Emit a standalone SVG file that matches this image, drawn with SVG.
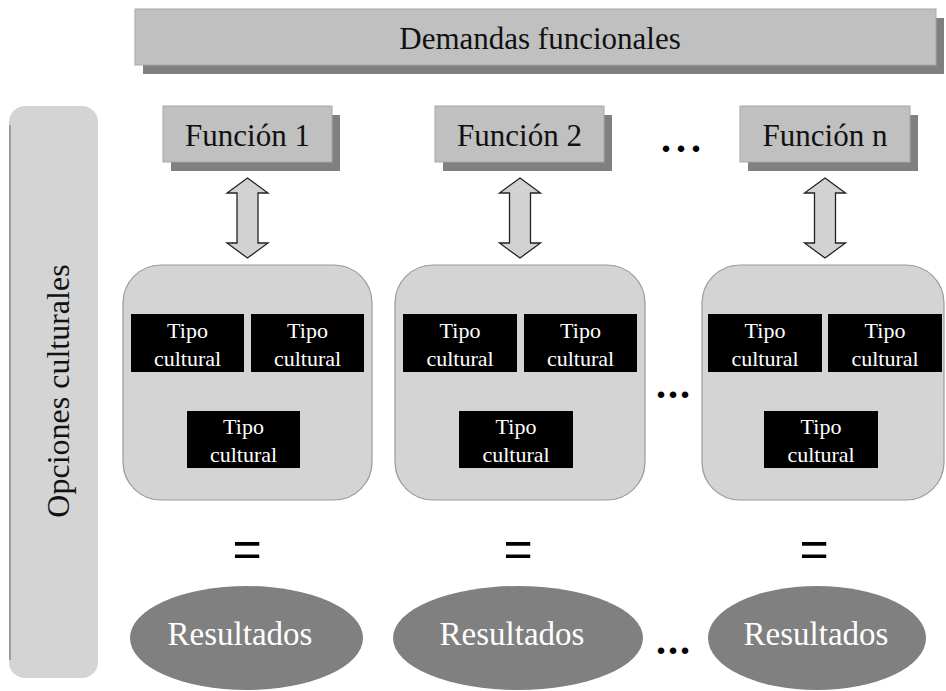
<svg xmlns="http://www.w3.org/2000/svg" width="946" height="691" viewBox="0 0 946 691">
<style>
.t{font-family:"Liberation Serif","Times New Roman",serif;fill:#111;}
.face{fill:#c0c0c0;stroke:#a8a8a8;stroke-width:1;}
.shadow{fill:#808080;}
.cont{fill:#d4d4d4;stroke:#9a9a9a;stroke-width:1.2;}
.blk{fill:#000;}
.wt{font-family:"Liberation Serif","Times New Roman",serif;fill:#fff;font-size:22px;text-anchor:middle;}
.arr{fill:#d2d2d2;stroke:#222;stroke-width:1.3;}
.ell{fill:#808080;}
.rt{font-family:"Liberation Serif","Times New Roman",serif;fill:#fff;font-size:33px;text-anchor:middle;}
.eq{font-family:"Liberation Sans",Arial,sans-serif;font-size:50px;text-anchor:middle;fill:#000;}
.dots{font-family:"Liberation Serif","Times New Roman",serif;font-size:40px;font-weight:bold;fill:#000;}
</style>
<defs>
<path id="dbl" d="M0,0 L20.5,15 L10.5,15 L10.5,65 L20.5,65 L0,80 L-20.5,65 L-10.5,65 L-10.5,15 L-20.5,15 Z"/>
</defs>
<rect width="946" height="691" fill="#fff"/>

<g id="demandas">
<rect class="shadow" x="143" y="18" width="801" height="56"/>
<rect class="face" x="135" y="9" width="801" height="56"/>
<text class="t" x="540" y="49" font-size="31" text-anchor="middle">Demandas funcionales</text>
</g>

<g id="opciones">
<rect x="9" y="106" width="89" height="572" rx="16" fill="#d4d4d4"/>
<path d="M10,125 L10,660" stroke="#777" stroke-width="1.2" fill="none"/>
<text class="t" transform="translate(69,391) rotate(-90)" font-size="32" text-anchor="middle">Opciones culturales</text>
</g>

<g id="funcion1">
<rect class="shadow" x="171" y="115" width="169" height="56"/>
<rect class="face" x="163" y="106" width="169" height="56"/>
<text class="t" x="247.5" y="146" font-size="31" text-anchor="middle">Función 1</text>
</g>
<g id="funcion2">
<rect class="shadow" x="443" y="115" width="169" height="56"/>
<rect class="face" x="435" y="106" width="169" height="56"/>
<text class="t" x="519.5" y="146" font-size="31" text-anchor="middle">Función 2</text>
</g>
<g id="funcionn">
<rect class="shadow" x="748" y="115" width="170" height="56"/>
<rect class="face" x="740" y="106" width="170" height="56"/>
<text class="t" x="825" y="146" font-size="31" text-anchor="middle">Función n</text>
</g>
<text class="dots" x="661" y="152" letter-spacing="5">...</text>

<g id="connectors">
<use href="#dbl" class="arr" transform="translate(247.5,178)"/>
<use href="#dbl" class="arr" transform="translate(520,178)"/>
<use href="#dbl" class="arr" transform="translate(825,178)"/>
</g>

<g id="opcion1">
<rect class="cont" x="123" y="265" width="249" height="235" rx="38"/>
<rect class="blk" x="131" y="314" width="113" height="58"/>
<text class="wt" x="187.5" y="338">Tipo</text><text class="wt" x="187.5" y="366">cultural</text>
<rect class="blk" x="251" y="314" width="113" height="58"/>
<text class="wt" x="307.5" y="338">Tipo</text><text class="wt" x="307.5" y="366">cultural</text>
<rect class="blk" x="187" y="411" width="113" height="57"/>
<text class="wt" x="243.5" y="434">Tipo</text><text class="wt" x="243.5" y="462">cultural</text>
</g>
<g id="opcion2">
<rect class="cont" x="395" y="265" width="250" height="235" rx="38"/>
<rect class="blk" x="403" y="314" width="114" height="58"/>
<text class="wt" x="460" y="338">Tipo</text><text class="wt" x="460" y="366">cultural</text>
<rect class="blk" x="524" y="314" width="113" height="58"/>
<text class="wt" x="580.5" y="338">Tipo</text><text class="wt" x="580.5" y="366">cultural</text>
<rect class="blk" x="459" y="411" width="114" height="57"/>
<text class="wt" x="516" y="434">Tipo</text><text class="wt" x="516" y="462">cultural</text>
</g>
<text class="dots" x="656" y="398" letter-spacing="2">...</text>
<g id="opcionn">
<rect class="cont" x="702" y="265" width="242" height="235" rx="38"/>
<rect class="blk" x="708" y="314" width="114" height="58"/>
<text class="wt" x="765" y="338">Tipo</text><text class="wt" x="765" y="366">cultural</text>
<rect class="blk" x="828" y="314" width="114" height="58"/>
<text class="wt" x="885" y="338">Tipo</text><text class="wt" x="885" y="366">cultural</text>
<rect class="blk" x="764" y="411" width="114" height="57"/>
<text class="wt" x="821" y="434">Tipo</text><text class="wt" x="821" y="462">cultural</text>
</g>

<text class="eq" x="247" y="566">=</text>
<text class="eq" x="518" y="566">=</text>
<text class="eq" x="814" y="566">=</text>

<g id="resultado1">
<ellipse class="ell" cx="246.5" cy="638" rx="116.5" ry="52"/>
<text class="rt" x="240" y="645">Resultados</text>
</g>
<g id="resultado2">
<ellipse class="ell" cx="518" cy="638" rx="125" ry="52"/>
<text class="rt" x="512" y="645">Resultados</text>
</g>
<g id="resultadon">
<ellipse class="ell" cx="817" cy="638" rx="109" ry="52"/>
<text class="rt" x="816" y="645">Resultados</text>
</g>
<text class="dots" x="656" y="654" letter-spacing="2">...</text>
</svg>
